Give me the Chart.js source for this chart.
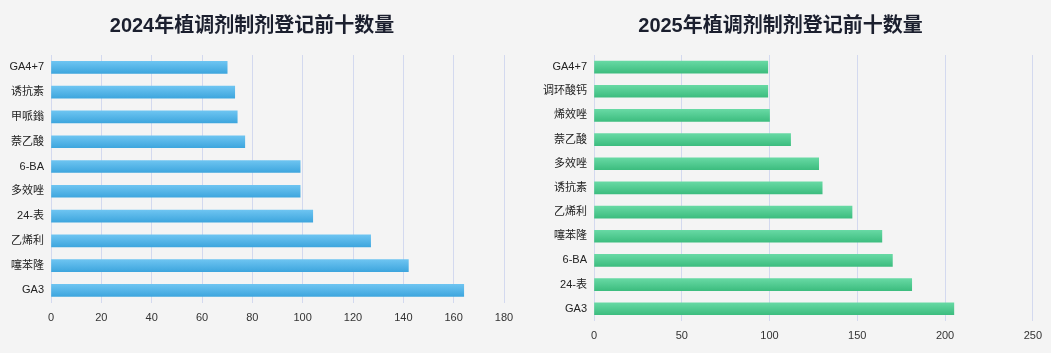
<!DOCTYPE html>
<html>
<head>
<meta charset="utf-8">
<script src="https://cdn.jsdelivr.net/npm/chart.js@4.4.1/dist/chart.umd.min.js"></script>
<style>
  html, body { margin: 0; padding: 0; background: #f4f4f4; }
  body { width: 1051px; height: 353px; position: relative; overflow: hidden; }
  .box { position: absolute; top: 0; }
</style>
</head>
<body>
<div class="box" style="left:0"><canvas id="chart2024" width="525" height="353"></canvas></div>
<div class="box" style="left:525px"><canvas id="chart2025" width="526" height="353"></canvas></div>
<script>
// 2024 top ten
const labels2024 = ['GA4+7', '诱抗素', '甲哌鎓', '萘乙酸', '6-BA', '多效唑', '24-表', '乙烯利', '噻苯隆', 'GA3'];
const values2024 = [70, 73, 74, 77, 99, 99, 104, 127, 142, 164];

// 2025 top ten (11 entries, tie at tenth)
const labels2025 = ['GA4+7', '调环酸钙', '烯效唑', '萘乙酸', '多效唑', '诱抗素', '乙烯利', '噻苯隆', '6-BA', '24-表', 'GA3'];
const values2025 = [99, 99, 100, 112, 128, 130, 147, 164, 170, 181, 205];

const fontFamily = "'Liberation Sans', 'Noto Sans CJK SC', sans-serif";

// vertical gradient per bar
function barGradient(top, bottom) {
  return (context) => {
    const chart = context.chart;
    if (!chart.chartArea) return bottom;
    const y = chart.scales.y.getPixelForValue(context.dataIndex);
    const g = chart.ctx.createLinearGradient(0, y - 6, 0, y + 6);
    g.addColorStop(0, top);
    g.addColorStop(1, bottom);
    return g;
  };
}

function makeChart(id, title, labels, values, colors, opts) {
  return new Chart(document.getElementById(id).getContext('2d'), {
    type: 'bar',
    data: {
      labels: labels,
      datasets: [{
        data: values,
        backgroundColor: barGradient(colors[0], colors[1]),
        borderWidth: 0,
        barThickness: 12
      }]
    },
    options: {
      indexAxis: 'y',
      responsive: false,
      animation: false,
      layout: { padding: opts.padding },
      plugins: {
        legend: { display: false },
        tooltip: { enabled: false },
        title: {
          display: true,
          text: title,
          color: '#1b1f2e',
          font: { family: fontFamily, size: 20, weight: 'bold' },
          padding: { top: 14, bottom: 17 }
        }
      },
      scales: {
        x: {
          min: 0,
          max: opts.max,
          ticks: { stepSize: opts.step, color: '#333', padding: 9, font: { family: fontFamily, size: 11 } },
          grid: { color: '#d3d9ef', drawTicks: false },
          border: { display: false }
        },
        y: {
          afterFit: (scale) => { scale.width = opts.yWidth; },
          ticks: { color: '#222', padding: 7, font: { family: fontFamily, size: 11 } },
          grid: { display: false, drawTicks: false },
          border: { display: false }
        }
      }
    }
  });
}

makeChart('chart2024', '2024年植调剂制剂登记前十数量', labels2024, values2024,
  ['#6dc4f1', '#3ea6de'],
  { max: 180, step: 20, yWidth: 51, padding: { left: 0, right: 21, top: 0, bottom: 19 } });

makeChart('chart2025', '2025年植调剂制剂登记前十数量', labels2025, values2025,
  ['#67d9a4', '#3dbd7f'],
  { max: 250, step: 50, yWidth: 69, padding: { left: 0, right: 15, top: 0, bottom: 1 } });
</script>
</body>
</html>
